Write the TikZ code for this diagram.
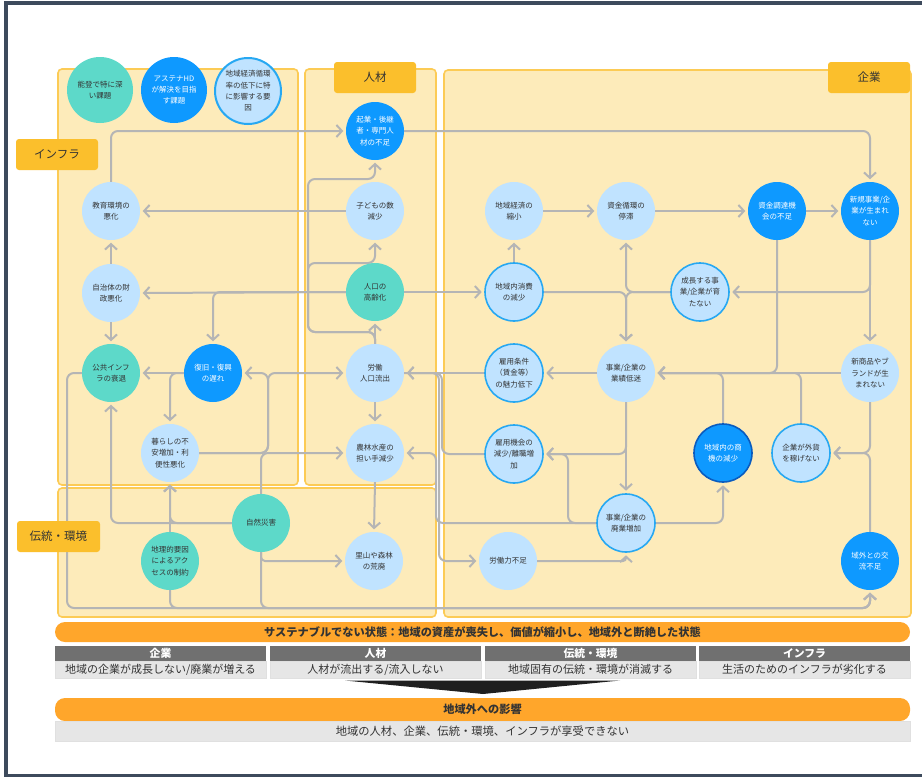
\documentclass[tikz,border=0pt]{standalone}
\usepackage{fontspec}
\setmainfont{Noto Sans CJK JP}
\usetikzlibrary{arrows.meta}
\definecolor{panelfill}{HTML}{FDEBBA}
\definecolor{paneldraw}{HTML}{FCCB55}
\definecolor{tabfill}{HTML}{FBBF2C}
\definecolor{nteal}{HTML}{5DD9C9}
\definecolor{nblue}{HTML}{0E99FF}
\definecolor{nlight}{HTML}{C0E3FF}
\definecolor{nborder}{HTML}{27A8F2}
\definecolor{ndark}{HTML}{0A5CBF}
\definecolor{conncol}{HTML}{B5B5B5}
\definecolor{txt}{HTML}{333333}
\definecolor{barorange}{HTML}{FFA62B}
\definecolor{hdrgray}{HTML}{707070}
\definecolor{bodygray}{HTML}{E6E6E6}
\definecolor{framec}{HTML}{3D4A5C}
\pgfdeclarelayer{back}
\pgfdeclarelayer{mid}
\pgfsetlayers{back,mid,main}
\tikzset{
  base/.style={circle, minimum size=58pt, inner sep=0pt, align=center,
    font=\fontsize{7.5}{11.3}\selectfont, text=txt},
  light/.style={base, fill=nlight},
  lightb/.style={base, fill=nlight, draw=nborder, line width=1.6pt},
  tealn/.style={base, fill=nteal},
  bluen/.style={base, fill=nblue, text=white},
  panel/.style={fill=panelfill, draw=paneldraw, line width=1.6pt, rounded corners=4pt},
  tab/.style={fill=tabfill, rounded corners=3pt, inner sep=0pt,
    font=\fontsize{11.5}{13}\selectfont, text=txt},
  link/.style={draw=conncol, line width=2pt, rounded corners=7pt},
  arr/.style={-{Straight Barb[length=5.5pt,width=12pt]}, shorten >=2.5pt},
  bar/.style={fill=barorange, rounded corners=10pt, inner sep=0pt,
    font=\fontsize{11.2}{13}\selectfont\bfseries, text=txt},
  hdr/.style={fill=hdrgray, inner sep=0pt, minimum height=15pt,
    font=\fontsize{10.8}{12}\selectfont\bfseries, text=white},
  bodyc/.style={fill=bodygray, draw=black!12, line width=0.6pt, inner sep=0pt,
    font=\fontsize{11}{12}\selectfont, text=txt}
}
\begin{document}
\begin{tikzpicture}[x=1pt,y=-1pt]
\useasboundingbox (0,0) rectangle (922,777);

\begin{pgfonlayer}{back}
  \fill[white] (0,0) rectangle (922,777);
  \draw[panel] (58,69) rectangle (298,485);
  \draw[panel] (305,69) rectangle (436,485);
  \draw[panel] (444,70) rectangle (911,617);
  \draw[panel] (58,488) rectangle (436,617);
\end{pgfonlayer}
\draw[framec, line width=4pt] (6,790) -- (6,3) -- (935,3);
\draw[framec, line width=3pt] (6,775.5) -- (935,775.5);

% tabs
\node[tab, minimum width=82pt, minimum height=31pt] (tInfra) at (57,154.5) {インフラ};
\node[tab, minimum width=82pt, minimum height=31pt] (tJin) at (375,77.5) {人材};
\node[tab, minimum width=82pt, minimum height=31pt] (tKig) at (869,77.5) {企業};
\node[tab, minimum width=83pt, minimum height=31pt] (tDen) at (58.5,536.5) {伝統・環境};

% legend
\node[tealn, minimum size=66pt] (L1) at (100,90) {能登で特に深\\い課題};
\node[bluen, minimum size=66pt] (L2) at (174,90) {アステナHD\\が解決を目指\\す課題};
\node[lightb, minimum size=66pt, line width=2pt] (L3) at (248,91) {地域経済循環\\率の低下に特\\に影響する要\\因};

% infra
\node[light] (A1) at (111,211) {教育環境の\\悪化};
\node[light] (A2) at (111,293) {自治体の財\\政悪化};
\node[tealn] (A3) at (111,373) {公共インフ\\ラの衰退};
\node[bluen] (A4) at (213,373) {復旧・復興\\の遅れ};
\node[light] (A5) at (170,453) {暮らしの不\\安増加・利\\便性悪化};

% dento
\node[tealn] (D1) at (170,561) {地理的要因\\によるアク\\セスの制約};
\node[tealn] (D2) at (261,523) {自然災害};
\node[light] (D3) at (374,561) {里山や森林\\の荒廃};

% jinzai
\node[bluen] (J1) at (375,131) {起業・後継\\者・専門人\\材の不足};
\node[light] (J2) at (375,211) {子どもの数\\減少};
\node[tealn] (J3) at (375,292) {人口の\\高齢化};
\node[light] (J4) at (375,373) {労働\\人口流出};
\node[light] (J5) at (375,453) {農林水産の\\担い手減少};

% kigyo
\node[light] (K1) at (514,211) {地域経済の\\縮小};
\node[light] (K2) at (626,211) {資金循環の\\停滞};
\node[bluen] (K3) at (777,211) {資金調達機\\会の不足};
\node[bluen] (K4) at (870,211) {新規事業/企\\業が生まれ\\ない};
\node[lightb] (K5) at (514,292) {地域内消費\\の減少};
\node[lightb] (K6) at (700,292) {成長する事\\業/企業が育\\たない};
\node[lightb] (K7) at (514,373) {雇用条件\\（賃金等）\\の魅力低下};
\node[light] (K8) at (626,373) {事業/企業の\\業績低迷};
\node[light] (K9) at (870,373) {新商品やブ\\ランドが生\\まれない};
\node[lightb] (K10) at (514,454) {雇用機会の\\減少/離職増\\加};
\node[bluen, draw=ndark, line width=1.6pt] (K11) at (723,453) {地域内の商\\機の減少};
\node[lightb] (K12) at (801,453) {企業が外貨\\を稼げない};
\node[lightb] (K13) at (626,523) {事業/企業の\\廃業増加};
\node[light] (K14) at (508,561) {労働力不足};
\node[bluen] (K15) at (870,561) {域外との交\\流不足};

% bend coordinates
\coordinate (bA) at (268,453);
\coordinate (bl) at (67,608);
\coordinate (jL1) at (308,332);
\coordinate (jL2) at (308,263);
\coordinate (jL3) at (308,179);
\coordinate (gJ4) at (439,373);
\coordinate (gK10) at (442,454);
\coordinate (gK13) at (436,523);
\coordinate (gK13b) at (568,523);

\begin{pgfonlayer}{mid}
  \draw[link,arr] (A1.north) |- (J1.west);
  \draw[link,arr] (J1.east) -| (K4.north);
  \draw[link,arr] (J2.west) -- (A1.east);
  \draw[link,arr] (J3.west) -- (A2.east);
  \draw[link,arr] (J3.west) -| (A4.north);
  \draw[link,arr] (J3.east) -- (K5.west);
  \draw[link,arr] (A2.north) -- (A1.south);
  \draw[link,arr] (A2.south) -- (A3.north);
  \draw[link,arr] (A4.west) -- (A3.east);
  \draw[link,arr] (A4.west) -| (A5.north);
  \draw[link,arr] (A5.east) -- (bA) |- (J4.west);
  \draw[link,arr] (A5.east) -- (bA) |- (A4.east);
  \draw[link,arr] (D2.north) |- (J5.west);
  \draw[link,arr] (D2.west) -| (A5.south);
  \draw[link,arr] (D1.north) -- (A5.south);
  \draw[link,arr] (D2.west) -| (A3.south);
  \draw[link,arr] (A3.west) -| (bl) -| (K15.south);
  \draw[link,arr] (D1.south) -- (D1.south |- bl) -| (K15.south);
  \draw[link,arr] (D2.south) -- (D2.south |- bl) -| (K15.south);
  \draw[link,arr,rounded corners=4pt] (D2.south) |- (D3.west);
  \draw[link,arr] (J4.south) -- (J5.north);
  \draw[link,arr] (J5.south) -- (D3.north);
  \draw[link,arr] (J4.north) -- (J3.south);
  \draw[link,arr] (J4.north) |- (jL1) -- (jL2) -| (J2.south);
  \draw[link,arr] (J4.north) |- (jL1) -- (jL3) -| (J1.south);
  \draw[link,arr] (K7.west) -- (J4.east);
  \draw[link,arr] (K10.west) -- (gK10) |- (J4.east);
  \draw[link,arr] (K13.west) -- (gK13) |- (J5.east);
  \draw[link,arr] (J4.east) -- (gJ4) |- (K14.west);
  \draw[link,arr] (K13.west) -- (gK13b) |- (K10.east);
  \draw[link,arr] (K1.east) -- (K2.west);
  \draw[link,arr] (K2.east) -- (K3.west);
  \draw[link,arr] (K3.east) -- (K4.west);
  \draw[link,arr] (K5.north) -- (K1.south);
  \draw[link,arr] (K5.east) -| (K8.north);
  \draw[link,arr] (K6.west) -| (K8.north);
  \draw[link,arr] (K6.west) -| (K2.south);
  \draw[link,arr] (K3.south) |- (K8.east);
  \draw[link,arr] (K4.south) |- (K6.east);
  \draw[link,arr] (K4.south) -- (K9.north);
  \draw[link,arr] (K9.west) -- (K8.east);
  \draw[link,arr] (K11.north) |- (K8.east);
  \draw[link,arr] (K12.north) |- (K8.east);
  \draw[link,arr] (K8.west) -- (K7.east);
  \draw[link,arr] (K8.south) |- (K10.east);
  \draw[link,arr] (K8.south) -- (K13.north);
  \draw[link,arr] (K9.south) |- (K12.east);
  \draw[link,arr] (K15.north) |- (K12.east);
  \draw[link,arr] (K13.east) -| (K11.south);
  \draw[link,arr,rounded corners=3pt] (K14.east) -| (K13.south);
\end{pgfonlayer}

% bottom section
\node[bar, minimum width=855pt, minimum height=20pt] (bar1) at (482.5,632) {サステナブルでない状態：地域の資産が喪失し、価値が縮小し、地域外と断絶した状態};
\node[hdr, minimum width=211pt] (h1) at (160.5,653.5) {企業};
\node[hdr, minimum width=211pt] (h2) at (375.5,653.5) {人材};
\node[hdr, minimum width=211pt] (h3) at (590.5,653.5) {伝統・環境};
\node[hdr, minimum width=211pt] (h4) at (804.5,653.5) {インフラ};
\node[bodyc, minimum width=211pt, minimum height=17pt] (b1) at (160.5,669.5) {地域の企業が成長しない/廃業が増える};
\node[bodyc, minimum width=211pt, minimum height=17pt] (b2) at (375.5,669.5) {人材が流出する/流入しない};
\node[bodyc, minimum width=211pt, minimum height=17pt] (b3) at (590.5,669.5) {地域固有の伝統・環境が消滅する};
\node[bodyc, minimum width=211pt, minimum height=17pt] (b4) at (804.5,669.5) {生活のためのインフラが劣化する};
\fill[black!88] (345,680.5) -- (620,680.5) -- (483,694) -- cycle;
\node[bar, minimum width=855pt, minimum height=23pt] (bar2) at (482.5,709.5) {地域外への影響};
\node[bodyc, minimum width=855pt, minimum height=20pt, font=\fontsize{11.3}{12}\selectfont] (b5) at (482.5,731) {地域の人材、企業、伝統・環境、インフラが享受できない};
\end{tikzpicture}
\end{document}
